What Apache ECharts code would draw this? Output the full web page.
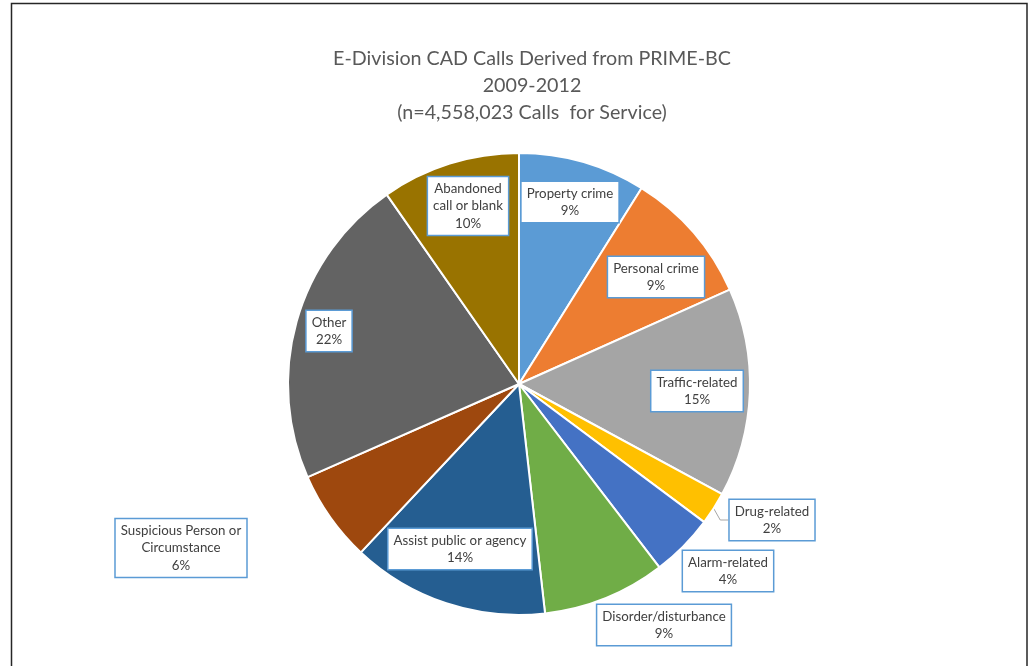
<!DOCTYPE html>
<html>
<head>
<meta charset="utf-8">
<script src="https://cdn.jsdelivr.net/npm/echarts@6/dist/echarts.min.js"></script>
<style>
html,body{margin:0;padding:0;background:#fff;}
#main{width:1031px;height:666px;}
</style>
</head>
<body>
<div id="main"></div>
<script>
var categories = ['Property crime','Personal crime','Traffic-related','Drug-related','Alarm-related','Disorder/disturbance','Assist public or agency','Suspicious Person or\nCircumstance','Other','Abandoned\ncall or blank'];
var shares = [8.9, 9.4, 14.6, 2.3, 4.4, 8.6, 13.8, 6.4, 21.9, 9.7];
var percentLabels = ['9%','9%','15%','2%','4%','9%','14%','6%','22%','10%'];
var sliceColors = ['#5b9bd5','#ed7d31','#a5a5a5','#ffc000','#4472c4','#70ad47','#255e91','#9e480e','#636363','#997300'];
// label box centres (px)
var labelPos = [[570,202],[656,277],[697,391],[772,520],[728,571],[664,625],[460,549],[181,548],[329,331],[468,206]];

var FONT = 'Lato';
var data = categories.map(function(c,i){
  var d = {name:c, value:shares[i], itemStyle:{color:sliceColors[i]}};
  if (i === 3) {
    d.label = {position:'outside'};
    d.labelLine = {show:true, length:8, length2:8, lineStyle:{color:'#a6a6a6', width:1}};
  }
  return d;
});

var chart = echarts.init(document.getElementById('main'), null, {renderer:'canvas'});
chart.setOption({
  backgroundColor:'#fff',
  animation:false,
  title:{
    text:'E-Division CAD Calls Derived from PRIME-BC\n2009-2012\n(n=4,558,023 Calls  for Service)',
    left:532, top:45, padding:0, textAlign:'center',
    textStyle:{fontFamily:FONT, fontSize:19.7, fontWeight:'normal', color:'#595959', lineHeight:27}
  },
  graphic:[{
    type:'rect', shape:{x:11.5, y:3.5, width:1015.5, height:700},
    style:{fill:'none', stroke:'#262626', lineWidth:1.5}, silent:true
  }],
  series:[{
    type:'pie',
    center:[519,384],
    radius:[0,231],
    startAngle:90,
    clockwise:true,
    avoidLabelOverlap:false,
    itemStyle:{borderColor:'#fff', borderWidth:2},
    label:{
      show:true, position:'inside',
      formatter:function(p){ return p.name + '\n' + percentLabels[p.dataIndex]; },
      fontFamily:FONT, fontSize:13.3, color:'#404040', lineHeight:17.5,
      backgroundColor:'#fff', borderColor:'#5b9bd5', borderWidth:1.5,
      padding:[3,5,2,5], align:'center'
    },
    labelLine:{show:false},
    labelLayout:function(p){
      var pos = labelPos[p.dataIndex];
      return {x:pos[0], y:pos[1], align:'center', verticalAlign:'middle'};
    },
    data:data
  }]
});
</script>
</body>
</html>
